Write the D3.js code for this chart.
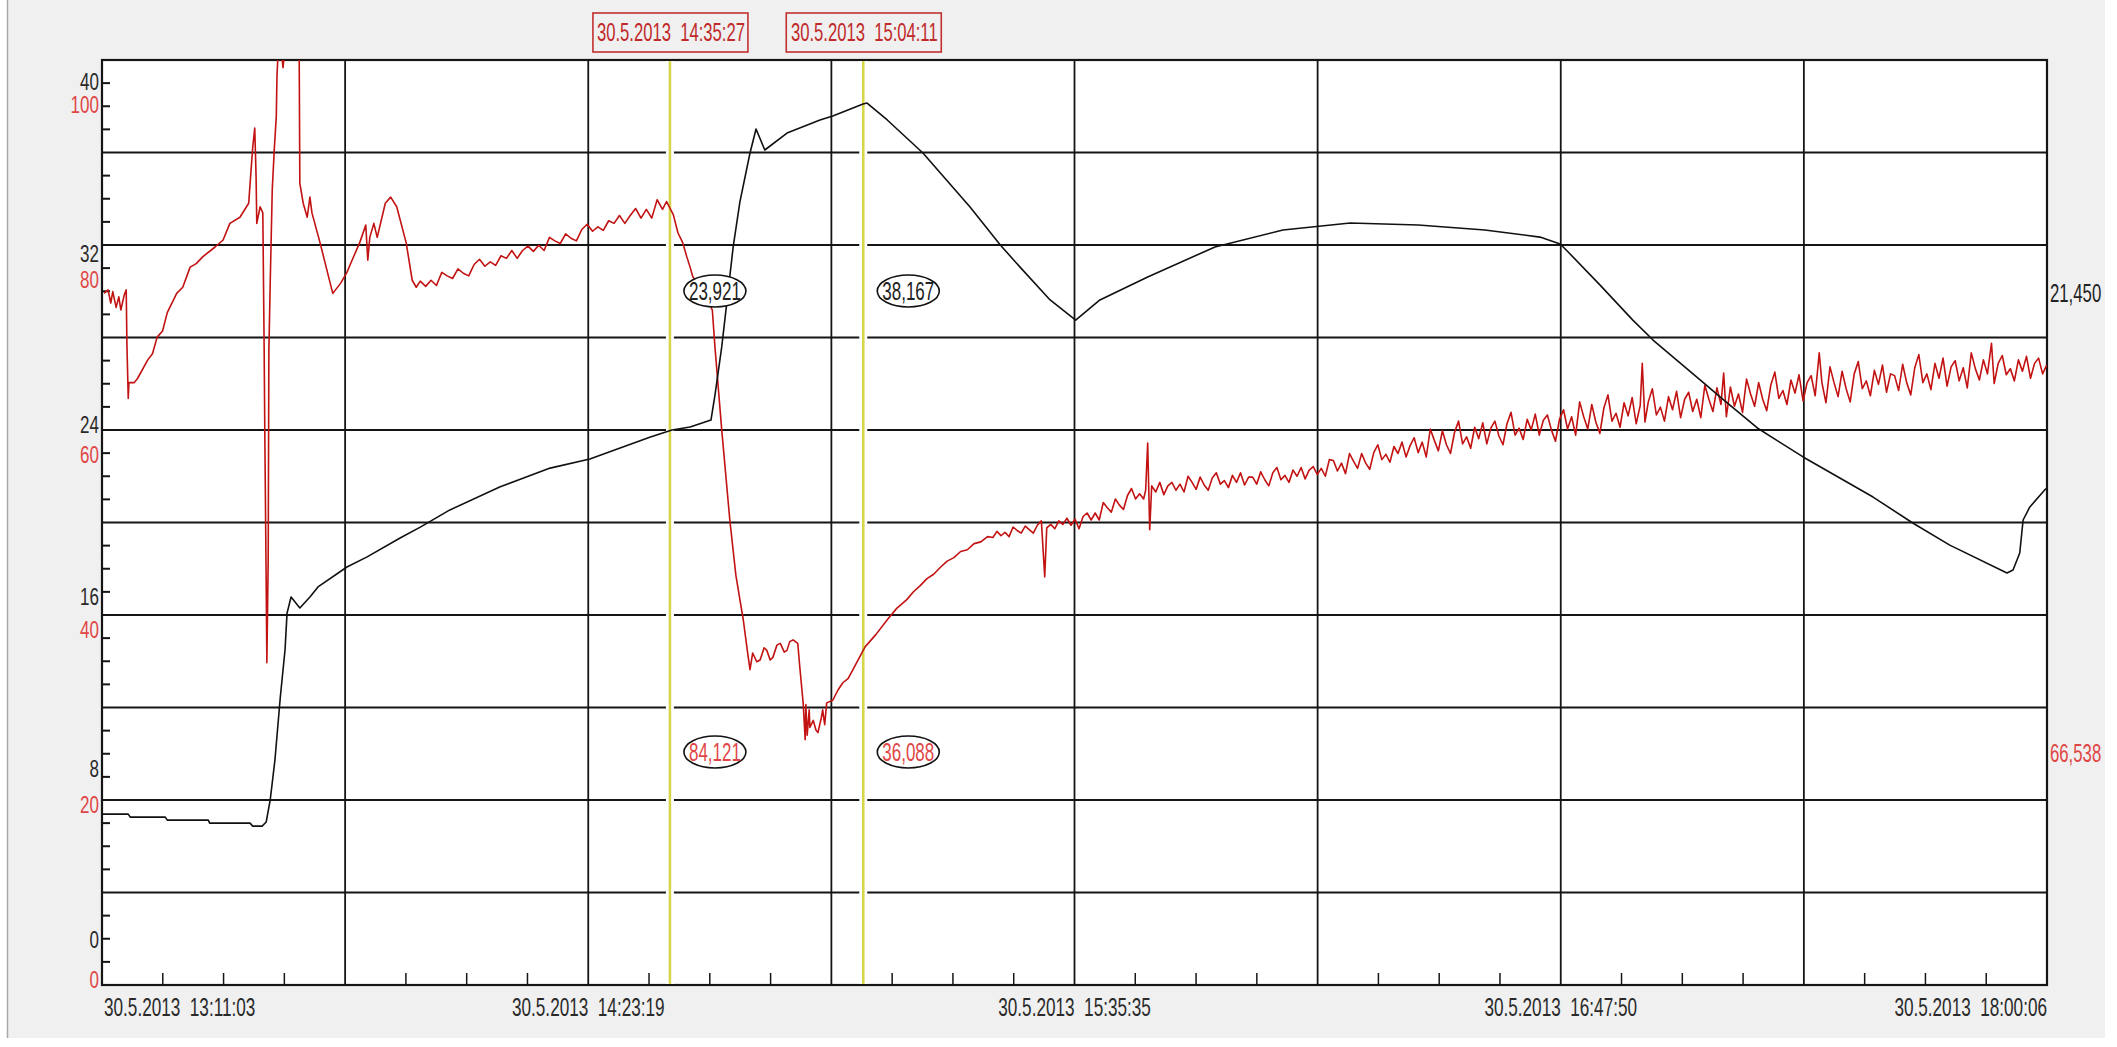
<!DOCTYPE html>
<html>
<head>
<meta charset="utf-8">
<script src="https://cdn.jsdelivr.net/npm/d3@7"></script>
<style>
	body { margin: 0; background: #fff; }
	text { font-family: "Liberation Sans", Arial, sans-serif; white-space: pre; }
</style>
</head>
<body>
<svg id="chart" width="2117" height="1047"></svg>
<script>
// ---- data ----
var dateLabel = '30.5.2013';
var xLabelTimes = ['13:11:03', '14:23:19', '15:35:35', '16:47:50', '18:00:06'];
var blackTicks = [0, 8, 16, 24, 32, 40];
var redTicks = [0, 20, 40, 60, 80, 100];

var cursorTimes = ['14:35:27', '15:04:11'];
var cursorBlack = ['23,921', '38,167'];
var cursorRed = ['84,121', '36,088'];
var lastBlack = '21,450';
var lastRed = '66,538';

// [minutes after 13:11:03, value on black axis]
var blackSeries = [
	[0,5.87],[3.9,5.87],[4.2,5.73],[9.4,5.73],[9.7,5.59],[15.8,5.59],[16.0,5.45],[22.0,5.45],[22.4,5.31],[23.8,5.31],
	[24.4,5.50],[25.0,6.53],[25.7,8.39],[26.5,11.33],[27.2,13.52],[27.5,15.24],[28.1,15.99],[29.4,15.48],[30.9,15.99],[32.1,16.46],
	[36.4,17.39],[39.4,17.86],[44.3,18.74],[47.3,19.25],[51.7,20.05],[59.1,21.12],[66.6,22.00],[72.5,22.42],[77.0,22.94],[81.5,23.45],
	[84.7,23.78],[87.4,23.92],[90.5,24.24],[91.1,25.41],[92.1,27.65],[93.8,32.31],[94.8,34.41],[96.3,36.69],[97.2,37.81],[98.5,36.83],
	[101.8,37.62],[106.7,38.23],[108.6,38.41],[113.1,38.97],[113.7,39.02],[116.7,38.23],[122.0,36.69],[129.0,34.17],[133.5,32.40],[136.4,31.38],
	[140.9,29.84],[144.7,28.90],[148.3,29.84],[155.4,30.91],[165.4,32.31],[175.5,33.10],[185.5,33.43],[195.6,33.33],[205.5,33.10],[213.7,32.77],
	[216.7,32.45],[217.6,32.17],[222.6,30.54],[227.5,28.90],[230.5,27.97],[237.5,26.11],[240.5,25.31],[246.0,23.87],[252.8,22.52],[263.2,20.65],
	[269.1,19.44],[274.6,18.41],[283.1,17.11],[284.0,17.25],[285.0,18.04],[285.5,19.58],[286.5,20.19],[288.7,20.98],[289.05,21.07]
];

// [minutes after 13:11:03, value on red axis]
var redSeries = [
	[0.3,77.9],[0.9,78.3],[1.3,76.8],[1.6,78.1],[2.1,76.3],[2.5,77.5],[2.8,76.0],[3.3,77.7],[3.6,78.3],[3.7,72.2],
	[3.9,65.9],[4.0,67.7],[4.8,67.7],[5.3,68.2],[6.8,70.3],[7.5,71.0],[8.2,72.9],[9.0,73.6],[9.7,75.7],[11.1,77.9],
	[12.0,78.6],[13.1,80.9],[14.0,81.3],[15.0,82.1],[16.8,83.2],[18.0,84.0],[19.0,85.9],[20.5,86.6],[21.8,88.2],[22.4,94.6],
	[22.7,96.8],[22.9,91.2],[23.0,85.9],[23.5,87.8],[23.9,87.1],[24.1,71.4],[24.2,61.5],[24.4,44.8],[24.5,35.7],[24.7,47.4],
	[24.8,71.4],[25.0,79.1],[25.3,89.7],[25.6,94.3],[25.9,98.1],[26.0,102.6],[26.2,106],[26.6,106],[26.9,103.7],[27.2,106],
	[29.3,106],[29.4,90.5],[29.9,88.2],[30.5,86.6],[30.9,88.9],[31.2,87.1],[32.4,83.7],[33.9,79.1],[34.3,77.9],[35.5,79.1],
	[36.4,80.3],[37.0,81.4],[38.3,83.7],[39.2,85.7],[39.5,81.7],[39.8,84.3],[40.4,85.9],[40.9,84.3],[42.1,88.2],[42.9,88.9],
	[43.8,87.8],[45.2,83.7],[46.1,79.4],[46.7,78.6],[47.3,79.3],[48.1,78.7],[48.9,79.4],[49.7,78.8],[50.5,80.3],[51.3,79.9],
	[52.1,79.6],[52.9,80.7],[53.7,80.2],[54.5,79.9],[55.3,81.2],[56.1,81.8],[56.9,81.0],[57.7,81.5],[58.5,81.1],[59.3,82.2],
	[60.1,81.9],[60.9,82.8],[61.7,81.9],[62.5,82.8],[63.3,83.3],[64.1,82.7],[64.9,83.4],[65.7,82.8],[66.5,84.3],[67.3,83.9],
	[68.1,83.6],[68.9,84.7],[69.7,84.2],[70.5,83.9],[71.3,85.2],[72.1,85.8],[72.9,85.0],[73.7,85.5],[74.5,85.1],[75.3,86.2],
	[76.1,85.9],[76.9,86.8],[77.7,85.9],[78.5,86.8],[79.3,87.6],[80.1,86.5],[80.9,87.5],[81.7,86.5],[82.5,88.6],[83.3,87.5],
	[83.9,88.4],[84.9,86.9],[85.6,84.8],[86.3,83.7],[86.9,82.1],[87.4,80.9],[87.8,79.8],[89.6,77.7],[90.7,76.0],[91.1,71.7],
	[92.1,62.3],[93.3,52.0],[94.2,45.7],[94.8,42.9],[95.3,40.6],[95.9,37.1],[96.3,34.9],[96.7,36.8],[97.3,35.8],[97.8,36.0],
	[98.4,37.4],[98.8,37.1],[99.3,36.0],[99.7,36.3],[100.3,37.7],[100.8,37.9],[101.4,36.9],[101.8,37.1],[102.2,38.1],[102.7,38.3],
	[103.4,37.9],[103.7,35.2],[104.2,31.1],[104.5,26.9],[104.6,30.9],[104.8,27.4],[105.1,30.3],[105.2,28.3],[105.7,29.1],[106.1,28.0],
	[106.4,27.7],[106.9,29.4],[107.1,30.3],[107.4,28.6],[107.7,31.1],[108.6,31.4],[109.4,32.6],[110.1,33.4],[110.9,33.9],[111.6,34.9],
	[113.4,37.5],[115.0,38.9],[116.7,40.6],[118.1,41.9],[119.6,42.9],[120.6,43.8],[121.6,44.5],[122.6,45.3],[123.6,45.8],[124.6,46.6],
	[125.6,47.3],[126.6,47.7],[127.6,48.4],[128.6,48.6],[129.6,49.3],[130.6,49.5],[131.6,50.1],[132.4,50.0],
	[133.0,50.7],[133.6,50.2],[134.2,50.6],[134.8,50.1],[135.4,51.2],[136.0,50.8],[136.6,50.5],[137.2,51.3],[137.8,50.9],[138.4,50.5],
	[139.0,51.4],[139.6,51.9],[140.1,45.5],[140.4,51.1],[141.0,51.5],[141.6,51.0],[142.2,51.9],[142.8,51.5],[143.4,52.2],[144.0,51.4],
	[144.6,52.1],[145.2,51.0],[145.8,52.4],[146.4,52.8],[147.0,52.0],[147.6,52.8],[148.2,52.0],[148.8,54.0],[149.4,53.4],[150.0,52.9],
	[150.6,54.4],[151.2,53.7],[151.8,53.2],[152.4,54.8],[153.0,55.6],[153.6,54.4],[154.2,55.0],[154.8,54.4],[155.1,55.4],[155.4,60.8],
	[155.7,50.9],[156.0,55.9],[156.6,55.2],[157.2,56.3],[157.8,54.9],[158.4,55.9],[159.0,56.3],[159.6,55.4],[160.2,56.1],[160.8,55.2],
	[161.4,57.0],[162.0,56.3],[162.6,55.5],[163.2,56.9],[163.8,56.0],[164.4,55.4],[165.0,56.8],[165.6,57.4],[166.2,56.1],[166.8,56.5],
	[167.4,55.7],[168.0,57.1],[168.6,56.3],[169.2,57.4],[169.8,56.0],[170.4,56.9],[171.0,56.9],[171.6,56.1],[172.2,57.5],[172.8,56.6],
	[173.4,55.9],[174.0,57.4],[174.6,58.0],[175.2,56.6],[175.8,57.1],[176.4,56.3],[177.0,57.7],[177.6,57.0],[178.2,58.0],[178.8,56.7],
	[179.4,57.7],[180.0,58.1],[180.6,57.2],[181.2,57.9],[181.8,57.0],[182.4,58.9],[183.0,58.8],[183.6,57.6],[184.2,58.5],[184.8,57.3],
	[185.4,59.6],[186.0,58.7],[186.6,57.9],[187.2,59.6],[187.8,58.5],[188.4,57.8],[189.0,59.7],[189.6,60.6],[190.2,58.9],[190.8,59.5],
	[191.4,58.6],[192.0,60.4],[192.6,59.6],[193.2,60.9],[193.8,59.2],[194.4,60.5],[195.0,61.4],[195.6,59.7],[196.2,60.9],[196.8,59.2],
	[197.4,62.4],[198.0,61.1],[198.6,59.9],[199.2,62.2],[199.8,60.6],[200.4,59.6],[201.0,62.0],[201.6,63.3],[202.2,60.7],[202.8,61.5],
	[203.4,60.2],[204.0,62.6],[204.6,61.3],[205.2,63.1],[205.8,60.7],[206.4,62.5],[207.0,63.3],[207.6,61.6],[208.2,60.6],[208.8,63.0],
	[209.4,64.3],[210.0,61.7],[210.6,62.5],[211.2,61.2],[211.8,63.5],[212.4,62.3],[213.0,64.1],[213.6,61.7],[214.2,63.4],[214.8,64.0],
	[215.4,62.3],[216.0,61.0],[216.6,63.5],[217.2,64.6],[217.8,62.4],[218.4,63.8],[219.0,61.7],[219.6,65.5],[220.2,63.8],[220.8,62.4],
	[221.4,65.2],[222.0,63.2],[222.6,61.9],[223.2,64.8],[223.8,66.3],[224.4,63.3],[225.0,64.2],[225.6,62.6],[226.2,65.4],[226.8,63.9],
	[227.4,66.0],[228.0,63.0],[228.6,65.1],[228.9,69.9],[229.3,63.2],[229.8,65.5],[230.4,67.0],[231.0,64.0],[231.6,64.9],[232.2,63.3],
	[232.8,66.1],[233.4,64.6],[234.0,66.7],[234.6,63.7],[235.2,65.8],[235.8,66.6],[236.4,64.4],[237.0,65.8],[237.6,63.7],[238.2,67.4],
	[238.8,65.8],[239.4,64.4],[240.0,67.1],[240.6,65.2],[241.0,68.8],[241.4,63.8],[242.0,67.2],[242.6,65.0],[243.2,66.4],[243.8,64.3],
	[244.4,68.1],[245.0,66.4],[245.6,65.0],[246.2,67.7],[246.8,65.8],[247.4,64.5],[248.0,67.4],[248.6,68.9],[249.2,65.9],[249.8,66.8],
	[250.4,65.2],[251.0,68.0],[251.6,66.5],[252.2,68.6],[252.8,65.6],[253.4,67.7],[254.0,68.5],[254.6,66.2],[255.2,71.1],[255.6,67.7],
	[256.2,65.4],[256.8,69.5],[257.4,67.7],[258.0,66.1],[258.6,69.0],[259.2,67.0],[259.8,65.5],[260.4,68.7],[261.0,70.1],[261.6,67.0],
	[262.2,67.9],[262.8,66.2],[263.4,69.1],[264.0,67.5],[264.6,69.7],[265.2,66.6],[265.8,68.7],[266.4,68.5],[267.0,66.8],[267.6,69.8],
	[268.2,67.7],[268.8,66.3],[269.4,69.4],[270.0,70.9],[270.6,67.7],[271.2,68.7],[271.8,66.9],[272.4,69.9],[273.0,68.2],[273.6,70.5],
	[274.2,67.3],[274.8,69.5],[275.4,70.2],[276.0,67.9],[276.6,69.4],[277.2,67.1],[277.8,71.1],[278.4,69.3],[279.0,68.0],[279.6,70.3],
	[280.2,68.7],[280.8,72.2],[281.2,67.6],[281.8,69.9],[282.4,70.8],[283.0,68.6],[283.6,69.3],[284.2,67.9],[284.8,70.3],[285.4,69.0],
	[286.0,70.7],[286.6,68.2],[287.2,69.9],[287.8,70.5],[288.4,68.7],[289.0,69.7]
];

// ---- layout ----
var plot = {left: 102, right: 2047, top: 60, bottom: 985};

var parseTime = d3.timeParse('%d.%m.%Y %H:%M:%S');
var t0 = parseTime(dateLabel + ' ' + xLabelTimes[0]);
var t1 = parseTime(dateLabel + ' ' + xLabelTimes[xLabelTimes.length - 1]);
function atMinute(m) { return new Date(t0.getTime() + m * 60000); }

var x = d3.scaleTime().domain([t0, t1]).range([plot.left, plot.right]);
var yBlack = d3.scaleLinear().domain([0, 40]).range([940, 82]);
var yRed = d3.scaleLinear().domain([0, 100]).range([975, 100]);
// the recorder divides the panel in 40 small steps, grid every 4
var yGrid = d3.scaleLinear().domain([0, 40]).range([plot.bottom, plot.top]);

var svg = d3.select('#chart');

// window background
svg.append('rect').attr('x', 7).attr('y', 0).attr('width', 2098).attr('height', 1038).attr('fill', '#f0f0f0');
svg.append('line').attr('x1', 7.5).attr('x2', 7.5).attr('y1', 0).attr('y2', 1038).attr('stroke', '#a9a9a9').attr('stroke-width', 1.5);
svg.append('rect').attr('x', plot.left).attr('y', plot.top)
	.attr('width', plot.right - plot.left).attr('height', plot.bottom - plot.top).attr('fill', '#fff');

// grid
var gridG = svg.append('g').attr('stroke', '#151515');
gridG.selectAll('line.h')
	.data(d3.range(0, 41, 4))
	.enter().append('line')
	.attr('class', 'h')
	.attr('x1', plot.left).attr('x2', plot.right)
	.attr('y1', function(d) { return yGrid(d); }).attr('y2', function(d) { return yGrid(d); })
	.attr('stroke-width', 2.2);

var majorTimes = d3.range(9).map(function(i) { return new Date(+t0 + i * (t1 - t0) / 8); });
var minorTimes = d3.range(33).filter(function(i) { return i % 4 != 0; })
	.map(function(i) { return new Date(+t0 + i * (t1 - t0) / 32); });

gridG.selectAll('line.v')
	.data(majorTimes)
	.enter().append('line')
	.attr('class', 'v')
	.attr('x1', function(d) { return x(d); }).attr('x2', function(d) { return x(d); })
	.attr('y1', plot.top).attr('y2', plot.bottom)
	.attr('stroke-width', 1.8);

gridG.selectAll('line.xt')
	.data(minorTimes)
	.enter().append('line')
	.attr('class', 'xt')
	.attr('x1', function(d) { return x(d); }).attr('x2', function(d) { return x(d); })
	.attr('y1', plot.bottom - 12).attr('y2', plot.bottom)
	.attr('stroke-width', 1.5);

gridG.selectAll('line.yt')
	.data(d3.range(1, 40).filter(function(k) { return k % 4 != 0; }))
	.enter().append('line')
	.attr('class', 'yt')
	.attr('x1', plot.left).attr('x2', plot.left + 8)
	.attr('y1', function(d) { return yGrid(d); }).attr('y2', function(d) { return yGrid(d); })
	.attr('stroke-width', 2);

// frame
svg.append('rect').attr('x', plot.left).attr('y', plot.top)
	.attr('width', plot.right - plot.left).attr('height', plot.bottom - plot.top)
	.attr('fill', 'none').attr('stroke', '#151515').attr('stroke-width', 2.2);

// cursors
var cursorDates = cursorTimes.map(function(t) { return parseTime(dateLabel + ' ' + t); });
svg.selectAll('line.halo')
	.data(cursorDates)
	.enter().append('line')
	.attr('class', 'halo')
	.attr('x1', function(d) { return x(d); }).attr('x2', function(d) { return x(d); })
	.attr('y1', plot.top + 1).attr('y2', plot.bottom - 1)
	.attr('stroke', '#fff').attr('stroke-width', 8);
svg.selectAll('line.cursor')
	.data(cursorDates)
	.enter().append('line')
	.attr('class', 'cursor')
	.attr('x1', function(d) { return x(d); }).attr('x2', function(d) { return x(d); })
	.attr('y1', plot.top + 1).attr('y2', plot.bottom - 1)
	.attr('stroke', '#d5d64c').attr('stroke-width', 2.6);

// series
svg.append('clipPath').attr('id', 'clip')
	.append('rect').attr('x', plot.left).attr('y', plot.top)
	.attr('width', plot.right - plot.left).attr('height', plot.bottom - plot.top);

var redLine = d3.line()
	.x(function(d) { return x(atMinute(d[0])); })
	.y(function(d) { return yRed(d[1]); });
var blackLine = d3.line()
	.x(function(d) { return x(atMinute(d[0])); })
	.y(function(d) { return yBlack(d[1]); });

var series = svg.append('g').attr('clip-path', 'url(#clip)');
series.append('path').datum(redSeries)
	.attr('d', redLine).attr('fill', 'none')
	.attr('stroke', '#c21212').attr('stroke-width', 1.6).attr('stroke-linejoin', 'round');
series.append('path').datum(blackSeries)
	.attr('d', blackLine).attr('fill', 'none')
	.attr('stroke', '#111').attr('stroke-width', 1.6).attr('stroke-linejoin', 'round');

// narrow recorder font: squeeze a regular sans horizontally
function label(parent, txt, px, py, anchor, size, color, squeeze) {
	return parent.append('text')
		.attr('transform', 'translate(' + px + ',' + py + ') scale(' + (squeeze || 0.66) + ',1)')
		.attr('text-anchor', anchor)
		.attr('dy', '0.36em')
		.style('font-size', size + 'px')
		.attr('fill', color)
		.text(txt);
}

// y axis labels
blackTicks.forEach(function(v) { label(svg, v, 99, yBlack(v), 'end', 23, '#2a2a2a', 0.74); });
redTicks.forEach(function(v) { label(svg, v, 99, yRed(v) + 5, 'end', 23, '#e04646', 0.74); });

// x axis labels
xLabelTimes.forEach(function(t, i) {
	var d = parseTime(dateLabel + ' ' + t);
	var anchor = i == 0 ? 'start' : (i == xLabelTimes.length - 1 ? 'end' : 'middle');
	label(svg, dateLabel + '  ' + t, x(d) + (i == 0 ? 2 : 0), 1007, anchor, 26, '#2a2a2a');
});

// cursor time boxes and value ellipses
cursorDates.forEach(function(d, i) {
	var cx = x(d);
	svg.append('rect').attr('x', cx - 77).attr('y', 13).attr('width', 155).attr('height', 39)
		.attr('fill', '#f0f0f0').attr('stroke', '#c23030').attr('stroke-width', 1.6);
	label(svg, dateLabel + '  ' + cursorTimes[i], cx + 1, 32, 'middle', 26, '#c02a2a', 0.64);

	[[cursorBlack[i], 291, '#222'], [cursorRed[i], 752, '#e04646']].forEach(function(e) {
		svg.append('ellipse').attr('cx', cx + 45).attr('cy', e[1]).attr('rx', 31).attr('ry', 16)
			.attr('fill', '#fff').attr('stroke', '#111').attr('stroke-width', 1.6);
		label(svg, e[0], cx + 45, e[1], 'middle', 25, e[2], 0.68);
	});
});

// last values at the right edge
label(svg, lastBlack, plot.right + 3, 293, 'start', 25, '#222', 0.67);
label(svg, lastRed, plot.right + 3, 753, 'start', 25, '#e04646', 0.67);
</script>
</body>
</html>
